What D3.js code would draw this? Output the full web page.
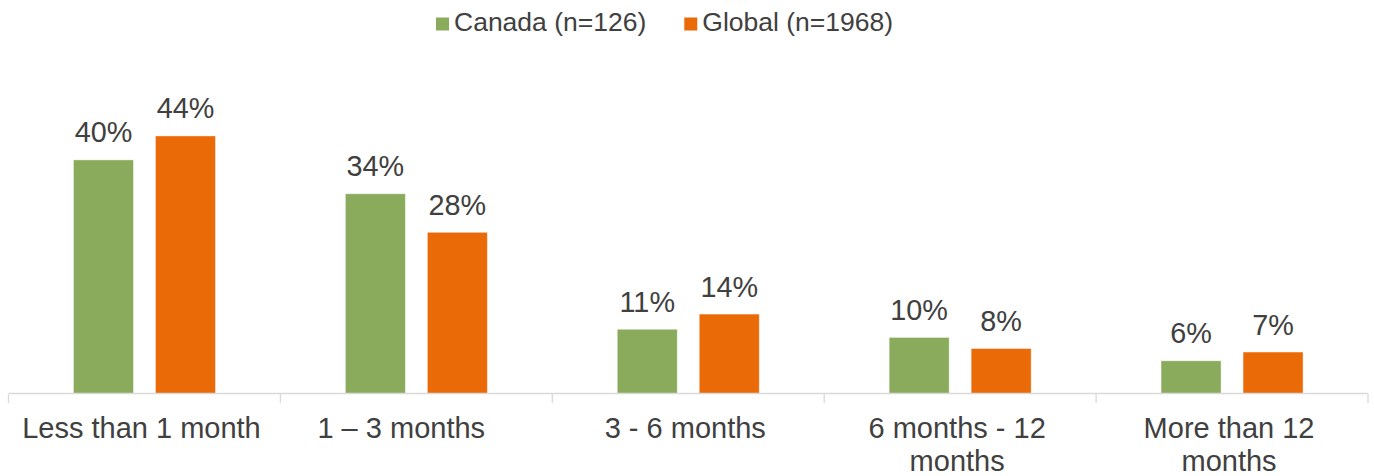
<!DOCTYPE html>
<html>
<head>
<meta charset="utf-8">
<script src="https://cdn.jsdelivr.net/npm/d3@7"></script>
<style>
  body { margin: 0; background: #fff; }
  svg { display: block; font-family: "Liberation Sans", Arial, sans-serif; }
  .axis-x path, .axis-x line { stroke: #d9d9d9; stroke-width: 1.3; }
  .cat-label { white-space: pre; }
</style>
</head>
<body>
<svg width="1374" height="476"></svg>
<script>
// Data (the second label carries trailing spaces, as in the source)
const categories = ['Less than 1 month', '1 \u2013 3 months   ', '3 - 6 months', '6 months - 12 months', 'More than 12 months']
const seriesNames = ['Canada (n=126)', 'Global (n=1968)']
const canada = [40, 34.2, 11, 9.6, 5.6]
const global = [44.1, 27.6, 13.6, 7.7, 7.1]
const colors = ['#8aab5b', '#eb6a08']

const svg = d3.select('svg')
const margin = {top: 101.5, left: 8.5, right: 6, baseline: 393.5}
const width = 1374 - margin.left - margin.right
const textColor = '#404040'

// Scales
const x = d3.scaleBand().domain(categories).range([0, width]).padding(0)
const pairWidth = 142
const xInner = d3.scaleBand()
  .domain(seriesNames)
  .range([x.bandwidth() / 2 - pairWidth / 2, x.bandwidth() / 2 + pairWidth / 2])
  .paddingInner(22 / 82)
const y = d3.scaleLinear().domain([0, 50]).range([margin.baseline, margin.baseline - 292])

const rows = categories.map((c, i) => ({key: c, values: [canada[i], global[i]]}))

const g = svg.append('g').attr('transform', 'translate(' + margin.left + ',0)')

// Bars
const cat = g.selectAll('.cat')
  .data(rows)
  .enter()
  .append('g')
  .attr('class', 'cat')
  .attr('transform', d => 'translate(' + x(d.key) + ',0)')

cat.selectAll('rect')
  .data(d => d.values.map((v, i) => ({name: seriesNames[i], value: v, i: i})))
  .enter()
  .append('rect')
  .attr('x', d => xInner(d.name))
  .attr('y', d => y(d.value))
  .attr('width', xInner.bandwidth())
  .attr('height', d => y(0) - y(d.value))
  .attr('fill', d => colors[d.i])
  .attr('stroke', '#ffffff')
  .attr('stroke-opacity', 0.5)
  .attr('stroke-width', 0.8)

// Value labels
cat.selectAll('.val')
  .data(d => d.values.map((v, i) => ({name: seriesNames[i], value: v})))
  .enter()
  .append('text')
  .attr('class', 'val')
  .attr('x', d => xInner(d.name) + xInner.bandwidth() / 2)
  .attr('y', d => y(d.value) - 17.5)
  .attr('text-anchor', 'middle')
  .attr('font-size', 28.8)
  .attr('fill', textColor)
  .text(d => Math.round(d.value) + '%')

// X axis with ticks at the category boundaries
const axis = g.append('g')
  .attr('class', 'axis-x')
  .attr('transform', 'translate(0,' + margin.baseline + ')')
  .call(d3.axisBottom(x).tickSize(0).tickFormat(''))
axis.selectAll('.tick').remove()
axis.select('.domain').attr('d', 'M0.5,0H' + (width - 0.5))
axis.selectAll('.bound')
  .data(d3.range(categories.length + 1))
  .enter()
  .append('line')
  .attr('class', 'bound')
  .attr('x1', i => i * x.step())
  .attr('x2', i => i * x.step())
  .attr('y1', 0)
  .attr('y2', 9.5)

// Category labels, wrapped like the original
const labels = g.selectAll('.cat-label')
  .data(categories)
  .enter()
  .append('text')
  .attr('class', 'cat-label')
  .attr('x', d => x(d) + x.bandwidth() / 2 - 3)
  .attr('y', 438)
  .attr('text-anchor', 'middle')
  .attr('font-size', 29)
  .attr('fill', textColor)

labels.each(function(d) {
  const text = d3.select(this)
  const words = d.split(/(?<=\S) (?=\S)/)
  let line = []
  let tspan = text.append('tspan').attr('x', text.attr('x')).attr('dy', 0)
  words.forEach(w => {
    line.push(w)
    tspan.text(line.join(' '))
    if (tspan.node().getComputedTextLength() > 245 && line.length > 1) {
      line.pop()
      tspan.text(line.join(' '))
      line = [w]
      tspan = text.append('tspan').attr('x', text.attr('x')).attr('dy', 33).text(w)
    }
  })
})

// Legend
const legend = svg.append('g').attr('transform', 'translate(436,0)')
let lx = 0
seriesNames.forEach((name, i) => {
  legend.append('rect')
    .attr('x', lx).attr('y', 17.5)
    .attr('width', 13).attr('height', 13)
    .attr('fill', colors[i])
  const t = legend.append('text')
    .attr('x', lx + 18).attr('y', 31)
    .attr('font-size', 26.5)
    .attr('fill', textColor)
    .text(name)
  lx += 18 + t.node().getComputedTextLength() + 38
})
</script>
</body>
</html>
